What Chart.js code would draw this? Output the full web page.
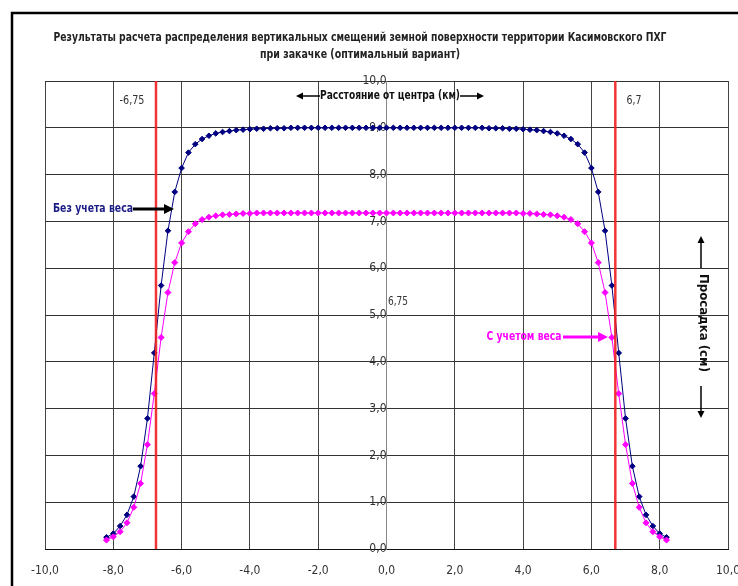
<!DOCTYPE html>
<html>
<head>
<meta charset="utf-8">
<script src="https://cdn.jsdelivr.net/npm/chart.js@4.4.1/dist/chart.umd.min.js"></script>
<style>
  html, body { margin:0; padding:0; background:#fff; }
  #wrap { width:738px; height:586px; }
</style>
</head>
<body>
<div id="wrap"><canvas id="chart" width="738" height="586"></canvas></div>
<script>
// distance from centre, km
const distKm = [-8.2,-8.0,-7.8,-7.6,-7.4,-7.2,-7.0,-6.8,-6.6,-6.4,-6.2,-6.0,-5.8,-5.6,-5.4,-5.2,-5.0,-4.8,-4.6,-4.4,-4.2,-4.0,-3.8,-3.6,-3.4,-3.2,-3.0,-2.8,-2.6,-2.4,-2.2,-2.0,-1.8,-1.6,-1.4,-1.2,-1.0,-0.8,-0.6,-0.4,-0.2,0.0,
  0.2,0.4,0.6,0.8,1.0,1.2,1.4,1.6,1.8,2.0,2.2,2.4,2.6,2.8,3.0,3.2,3.4,3.6,3.8,4.0,4.2,4.4,4.6,4.8,5.0,5.2,5.4,5.6,5.8,6.0,6.2,6.4,6.6,6.8,7.0,7.2,7.4,7.6,7.8,8.0,8.2];

// subsidence, cm - without weight
const noWeight = [0.25,0.33,0.49,0.73,1.12,1.77,2.79,4.19,5.63,6.80,7.63,8.14,8.47,8.65,8.76,8.83,8.88,8.91,8.93,8.95,8.96,8.97,8.98,8.98,8.99,8.99,8.99,
  9.00,9.00,9.00,9.00,9.00,9.00,9.00,9.00,9.00,9.00,9.00,9.00,9.00,9.00,9.00,
  9.00,9.00,9.00,9.00,9.00,9.00,9.00,9.00,9.00,9.00,9.00,9.00,9.00,9.00,
  8.99,8.99,8.99,8.98,8.98,8.97,8.96,8.95,8.93,8.91,8.88,8.83,8.76,8.65,8.47,8.14,7.63,6.80,5.63,4.19,2.79,1.77,1.12,0.73,0.49,0.33,0.25];

// subsidence, cm - with weight
const withWeight = [0.19,0.26,0.37,0.56,0.89,1.40,2.23,3.32,4.52,5.48,6.12,6.54,6.78,6.95,7.04,7.09,7.12,7.14,7.15,7.16,7.17,7.17,
  7.18,7.18,7.18,7.18,7.18,7.18,7.18,7.18,7.18,7.18,7.18,7.18,7.18,7.18,7.18,7.18,7.18,7.18,7.18,7.18,
  7.18,7.18,7.18,7.18,7.18,7.18,7.18,7.18,7.18,7.18,7.18,7.18,7.18,7.18,7.18,7.18,7.18,7.18,7.18,
  7.17,7.17,7.16,7.15,7.14,7.12,7.09,7.04,6.95,6.78,6.54,6.12,5.48,4.52,3.32,2.23,1.40,0.89,0.56,0.37,0.26,0.19];

// red boundary lines
const boundaryKm = [-6.75, 6.7];
const yRange = [0, 10];

const xTicks = [-10, -8, -6, -4, -2, 0, 2, 4, 6, 8, 10];
const yTicks = [0, 1, 2, 3, 4, 5, 6, 7, 8, 9, 10];

const NARROW = "'Liberation Sans Narrow', 'DejaVu Sans Condensed', 'Arial Narrow', 'Liberation Sans', sans-serif";

function comma(v) { return v.toFixed(1).replace('.', ','); }

function pts(xs, ys) { return xs.map(function(x, i) { return { x: x, y: ys[i] }; }); }

function fitText(ctx, text, x, y, w, font, color) {
  ctx.save();
  ctx.font = font;
  var k = w / ctx.measureText(text).width;
  ctx.translate(x, y);
  ctx.scale(k, 1);
  ctx.textAlign = 'center';
  ctx.textBaseline = 'middle';
  ctx.fillStyle = color;
  ctx.fillText(text, 0, 0);
  ctx.restore();
}

function arrow(ctx, x1, y1, x2, y2, color, lw, head) {
  var a = Math.atan2(y2 - y1, x2 - x1);
  ctx.save();
  ctx.strokeStyle = color; ctx.fillStyle = color; ctx.lineWidth = lw;
  ctx.beginPath();
  ctx.moveTo(x1, y1);
  ctx.lineTo(x2 - Math.cos(a) * head * 0.8, y2 - Math.sin(a) * head * 0.8);
  ctx.stroke();
  ctx.beginPath();
  ctx.moveTo(x2, y2);
  ctx.lineTo(x2 - head * Math.cos(a) + head * 0.5 * Math.sin(a), y2 - head * Math.sin(a) - head * 0.5 * Math.cos(a));
  ctx.lineTo(x2 - head * Math.cos(a) - head * 0.5 * Math.sin(a), y2 - head * Math.sin(a) + head * 0.5 * Math.cos(a));
  ctx.closePath();
  ctx.fill();
  ctx.restore();
}

const overlay = {
  id: 'overlay',
  beforeDraw: function(chart) {
    var ctx = chart.ctx;
    ctx.save();
    ctx.fillStyle = '#fff';
    ctx.fillRect(0, 0, chart.width, chart.height);
    ctx.strokeStyle = '#000';
    ctx.lineWidth = 2.5;
    ctx.beginPath();
    ctx.moveTo(12, 590);
    ctx.lineTo(12, 13);
    ctx.lineTo(745, 13);
    ctx.stroke();
    ctx.restore();
  },
  afterDraw: function(chart) {
    var ctx = chart.ctx;
    var bold = 'bold 12px ' + NARROW;
    fitText(ctx, 'Результаты расчета распределения вертикальных смещений земной поверхности территории Касимовского ПХГ', 360, 38, 613, bold, '#222');
    fitText(ctx, 'при закачке (оптимальный вариант)', 360, 55, 200, bold, '#222');

    var reg = '12px ' + NARROW;
    fitText(ctx, '-6,75', 132, 101, 25, reg, '#333');
    fitText(ctx, '6,7', 634, 101, 15, reg, '#333');
    fitText(ctx, '6,75', 398, 302, 20, reg, '#333');

    fitText(ctx, 'Расстояние от центра (км)', 390, 96, 140, 'bold 12px ' + NARROW, '#111');
    arrow(ctx, 320, 96, 296, 96, '#000', 1.5, 7);
    arrow(ctx, 460, 96, 484, 96, '#000', 1.5, 7);

    fitText(ctx, 'Без учета веса', 93, 209, 80, 'bold 13px ' + NARROW, '#1c1c86');
    arrow(ctx, 133, 209, 174, 209, '#000', 3, 10);

    fitText(ctx, 'С учетом веса', 524, 337, 75, 'bold 13px ' + NARROW, '#ff00ff');
    arrow(ctx, 563, 337, 608, 337, '#ff00ff', 3, 10);

    ctx.save();
    ctx.translate(703, 323);
    ctx.rotate(Math.PI / 2);
    fitText(ctx, 'Просадка (см)', 0, 0, 98, 'bold 13px ' + NARROW, '#111');
    ctx.restore();
    arrow(ctx, 701, 268, 701, 236, '#000', 1.5, 7);
    arrow(ctx, 701, 386, 701, 418, '#000', 1.5, 7);
  }
};

var datasets = [
  {
    label: 'С учетом веса',
    data: pts(distKm, withWeight),
    borderColor: '#ff00ff', backgroundColor: '#ff00ff',
    borderWidth: 1, pointStyle: 'rectRot', pointRadius: 3, pointBorderWidth: 1,
    tension: 0, order: 2
  },
  {
    label: 'Без учета веса',
    data: pts(distKm, noWeight),
    borderColor: '#000080', backgroundColor: '#000080',
    borderWidth: 1, pointStyle: 'rectRot', pointRadius: 2.8, pointBorderWidth: 1,
    tension: 0, order: 3
  }
];
boundaryKm.forEach(function(b) {
  datasets.push({
    label: 'граница',
    data: yRange.map(function(y) { return { x: b, y: y }; }),
    borderColor: 'rgba(240,30,30,0.9)', borderWidth: 2.5, pointRadius: 0, order: 1
  });
});

new Chart(document.getElementById('chart'), {
  type: 'line',
  data: { datasets: datasets },
  plugins: [overlay],
  options: {
    responsive: false,
    animation: false,
    devicePixelRatio: 1,
    layout: { padding: { left: 45, right: 10, top: 81, bottom: 0 } },
    plugins: { legend: { display: false }, title: { display: false }, tooltip: { enabled: false } },
    scales: {
      x: {
        type: 'linear', min: -10, max: 10,
        afterBuildTicks: function(s) { s.ticks = xTicks.map(function(v) { return { value: v }; }); },
        afterFit: function(s) { s.height = 37; s.paddingLeft = 0; s.paddingRight = 0; },
        ticks: { callback: function(v) { return comma(v); }, color: '#333', padding: 15, maxRotation: 0, autoSkip: false,
                 font: { family: NARROW, size: 12 } },
        grid: { color: '#444', lineWidth: 1, drawTicks: false },
        border: { color: '#111', width: 1 }
      },
      y: {
        type: 'linear', min: 0, max: 10, position: { x: 0 },
        afterBuildTicks: function(s) { s.ticks = yTicks.map(function(v) { return { value: v }; }); },
        afterFit: function(s) { s.width = 0; s.paddingLeft = 0; s.paddingRight = 0; },
        ticks: { callback: function(v) { return comma(v); }, color: '#333', padding: 3, autoSkip: false,
                 font: { family: NARROW, size: 12 } },
        grid: { color: '#333', lineWidth: 1, drawTicks: false },
        border: { color: '#888', width: 1 }
      }
    }
  }
});
</script>
</body>
</html>
